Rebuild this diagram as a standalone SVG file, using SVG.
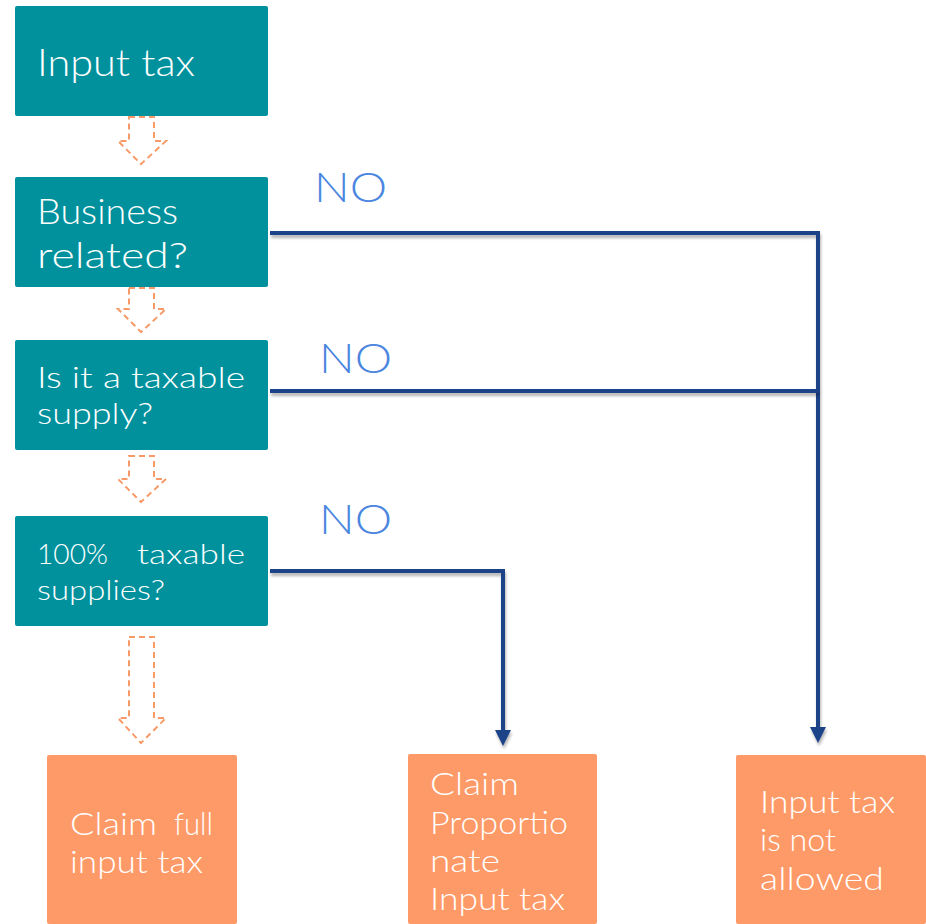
<svg xmlns="http://www.w3.org/2000/svg" width="926" height="924" viewBox="0 0 926 924">
<defs>
<style>
.teal{fill:#01919d}
.orng{fill:#fe9a67}
.t{font-family:"Century Gothic","Lato","Open Sans","DejaVu Sans",sans-serif;font-weight:300;fill:#ffffff}
.no{font-family:"Century Gothic","Lato","Open Sans",sans-serif;font-weight:300;fill:#4a86e0;font-size:41px}
.hollow{fill:none;stroke:#f79a68;stroke-width:2;stroke-dasharray:6,4}
.conn{fill:none;stroke:#1d4288;stroke-width:4;filter:url(#sh)}
</style>
<filter id="sh" filterUnits="userSpaceOnUse" x="0" y="0" width="926" height="924">
<feGaussianBlur in="SourceAlpha" stdDeviation="1.5"/>
<feOffset dx="1" dy="3" result="b"/>
<feComponentTransfer><feFuncA type="linear" slope="0.3"/></feComponentTransfer>
<feMerge><feMergeNode/><feMergeNode in="SourceGraphic"/></feMerge>
</filter>
<marker id="ah" markerWidth="4" markerHeight="4" refX="2" refY="2" orient="auto" markerUnits="strokeWidth" viewBox="0 0 4 4">
<path d="M0,0 L4,2 L0,4 z" fill="#1d4288"/>
</marker>
</defs>

<g id="n1"><rect class="teal" x="15" y="6" width="253" height="110" rx="2"/><text class="t" x="37" y="76" font-size="38" textLength="158" lengthAdjust="spacingAndGlyphs">Input tax</text></g>
<g id="n2"><rect class="teal" x="15" y="177" width="253" height="110" rx="2"/><text class="t" x="37" y="224" font-size="35" textLength="141" lengthAdjust="spacingAndGlyphs">Business</text><text class="t" x="37" y="268" font-size="35" textLength="151" lengthAdjust="spacingAndGlyphs">related?</text></g>
<g id="n3"><rect class="teal" x="15" y="340" width="253" height="110" rx="2"/><text class="t" x="37" y="388" font-size="29" textLength="208" lengthAdjust="spacingAndGlyphs">Is it a taxable</text><text class="t" x="37" y="424" font-size="29" textLength="116" lengthAdjust="spacingAndGlyphs">supply?</text></g>
<g id="n4"><rect class="teal" x="15" y="516" width="253" height="110" rx="2"/><text class="t" x="37" y="564" font-size="28" textLength="71" lengthAdjust="spacingAndGlyphs">100%</text><text class="t" x="137" y="564" font-size="28" textLength="108" lengthAdjust="spacingAndGlyphs">taxable</text><text class="t" x="37" y="600" font-size="28" textLength="128" lengthAdjust="spacingAndGlyphs">supplies?</text></g>

<g id="n5"><rect class="orng" x="47" y="755" width="190" height="169" rx="2"/><text class="t" x="70" y="835" font-size="31" textLength="87" lengthAdjust="spacingAndGlyphs">Claim</text><text class="t" x="174" y="835" font-size="31" textLength="39" lengthAdjust="spacingAndGlyphs">full</text><text class="t" x="70" y="873" font-size="31" textLength="133" lengthAdjust="spacingAndGlyphs">input tax</text></g>
<g id="n6"><rect class="orng" x="408" y="754" width="189" height="170" rx="2"/><text class="t" x="430" y="795" font-size="31" textLength="89" lengthAdjust="spacingAndGlyphs">Claim</text><text class="t" x="430" y="834" font-size="31" textLength="138" lengthAdjust="spacingAndGlyphs">Proportio</text><text class="t" x="430" y="872" font-size="31" textLength="70" lengthAdjust="spacingAndGlyphs">nate</text><text class="t" x="430" y="910" font-size="31" textLength="135" lengthAdjust="spacingAndGlyphs">Input tax</text></g>
<g id="n7"><rect class="orng" x="736" y="755" width="190" height="169" rx="2"/><text class="t" x="760" y="813" font-size="31" textLength="135" lengthAdjust="spacingAndGlyphs">Input tax</text><text class="t" x="760" y="851" font-size="31" textLength="76" lengthAdjust="spacingAndGlyphs">is not</text><text class="t" x="760" y="890" font-size="31" textLength="124" lengthAdjust="spacingAndGlyphs">allowed</text></g>

<g id="connectors">
<path class="hollow" d="M129,117 H154 V141 H166 L141,164 L118,141 H129 Z"/>
<path class="hollow" d="M129,288 H154 V309 H166 L141,332 L118,309 H129 Z"/>
<path class="hollow" d="M129,456 H154 V479 H166 L141,502 L118,479 H129 Z"/>
<path class="hollow" d="M129,637 H154 V718 H166 L141,743 L118,718 H129 Z"/>
<path class="conn" d="M270,233 H818 V735" marker-end="url(#ah)"/>
<path class="conn" d="M270,391 H818"/>
<path class="conn" d="M270,571 H503 V738" marker-end="url(#ah)"/>
<text class="no" x="314" y="202" textLength="73" lengthAdjust="spacingAndGlyphs">NO</text>
<text class="no" x="319" y="373" textLength="73" lengthAdjust="spacingAndGlyphs">NO</text>
<text class="no" x="319" y="534" textLength="73" lengthAdjust="spacingAndGlyphs">NO</text>
</g>
</svg>
